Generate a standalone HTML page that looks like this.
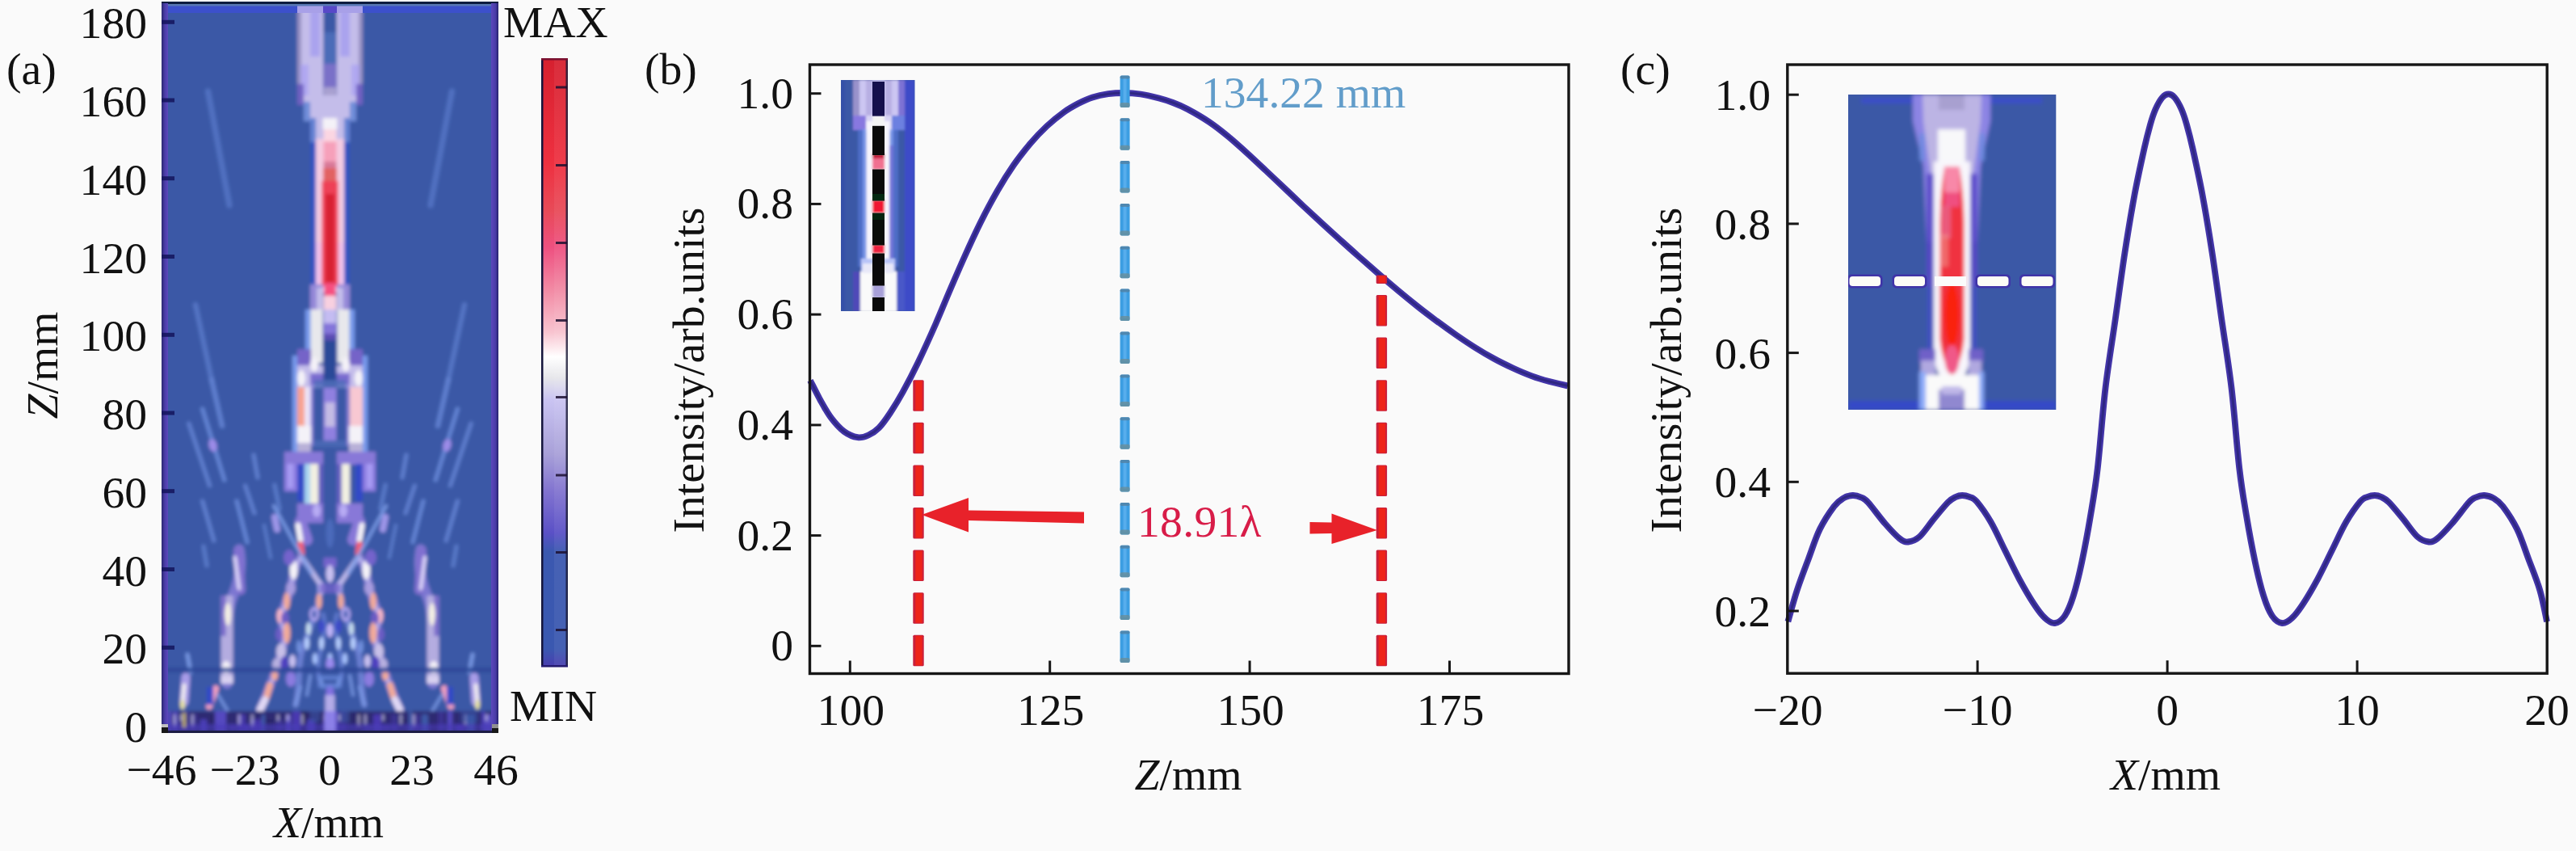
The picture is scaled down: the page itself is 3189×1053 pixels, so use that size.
<!DOCTYPE html>
<html><head><meta charset="utf-8"><title>Figure</title>
<style>
html,body{margin:0;padding:0;background:#fafafa;}
body{width:3189px;height:1053px;overflow:hidden;}
svg{display:block;font-family:"Liberation Serif","DejaVu Serif",serif;}
</style></head><body>
<svg width="3189" height="1053" viewBox="0 0 3189 1053">
<rect x="0" y="0" width="3189" height="1053" fill="#fafafa"/>
<defs><clipPath id="hmclip"><rect x="200" y="2" width="417" height="905"/></clipPath><filter id="hb" x="-5%" y="-5%" width="110%" height="110%"><feGaussianBlur stdDeviation="2.1"/></filter></defs>
<rect x="200" y="2" width="417" height="905" fill="#3b58a6"/>
<g clip-path="url(#hmclip)"><g filter="url(#hb)">
<rect x="180" y="-18" width="457" height="945" fill="#3b58a6"/>
<line x1="257.5" y1="113.0" x2="284.0" y2="254.0" stroke="#5474c4" stroke-width="7" stroke-linecap="round" opacity="0.9"/>
<line x1="559.5" y1="113.0" x2="533.0" y2="254.0" stroke="#5474c4" stroke-width="7" stroke-linecap="round" opacity="0.9"/>
<line x1="242.0" y1="377.0" x2="262.0" y2="470.0" stroke="#5878c8" stroke-width="6" stroke-linecap="round" opacity="0.9"/>
<line x1="575.0" y1="377.0" x2="555.0" y2="470.0" stroke="#5878c8" stroke-width="6" stroke-linecap="round" opacity="0.9"/>
<line x1="262.0" y1="470.0" x2="275.0" y2="527.0" stroke="#6484d4" stroke-width="6" stroke-linecap="round" opacity="0.9"/>
<line x1="555.0" y1="470.0" x2="542.0" y2="527.0" stroke="#6484d4" stroke-width="6" stroke-linecap="round" opacity="0.9"/>
<rect x="368.0" y="4.0" width="32.0" height="125.0" fill="#c4bdea" opacity="1"/>
<rect x="417.0" y="4.0" width="32.0" height="125.0" fill="#c4bdea" opacity="1"/>
<rect x="368.0" y="4.0" width="5.0" height="125.0" fill="#8c86b8" opacity="0.8"/>
<rect x="444.0" y="4.0" width="5.0" height="125.0" fill="#8c86b8" opacity="0.8"/>
<rect x="384.0" y="10.0" width="12.0" height="60.0" fill="#a098f0" opacity="0.7"/>
<rect x="421.0" y="10.0" width="12.0" height="60.0" fill="#a098f0" opacity="0.7"/>
<rect x="372.0" y="80.0" width="10.0" height="40.0" fill="#a8a0f4" opacity="0.7"/>
<rect x="435.0" y="80.0" width="10.0" height="40.0" fill="#a8a0f4" opacity="0.7"/>
<rect x="400.5" y="40.0" width="16.0" height="40.0" fill="#4c6cb8" opacity="1"/>
<rect x="400.5" y="79.0" width="16.0" height="32.0" fill="#7a70c8" opacity="1"/>
<rect x="400.5" y="108.0" width="16.0" height="14.0" fill="#a8a0d0" opacity="1"/>
<rect x="376.5" y="118.0" width="64.0" height="14.0" fill="#c4bdea" opacity="1"/>
<rect x="368.0" y="104.0" width="8.0" height="26.0" fill="#6c5cc0" opacity="0.9"/>
<rect x="441.0" y="104.0" width="8.0" height="26.0" fill="#6c5cc0" opacity="0.9"/>
<rect x="376.0" y="128.0" width="32.5" height="22.0" fill="#c4bdea" opacity="1"/>
<rect x="408.5" y="128.0" width="32.5" height="22.0" fill="#c4bdea" opacity="1"/>
<rect x="376.5" y="128.0" width="64.0" height="22.0" fill="#c4bdea" opacity="1"/>
<rect x="376.0" y="126.0" width="8.0" height="24.0" fill="#6a8ad8" opacity="0.95"/>
<rect x="433.0" y="126.0" width="8.0" height="24.0" fill="#6a8ad8" opacity="0.95"/>
<rect x="384.5" y="146.0" width="48.0" height="30.0" fill="#c4bdea" opacity="1"/>
<rect x="384.0" y="146.0" width="7.0" height="30.0" fill="#5a7ad0" opacity="0.9"/>
<rect x="426.0" y="146.0" width="7.0" height="30.0" fill="#5a7ad0" opacity="0.9"/>
<rect x="399.5" y="146.0" width="18.0" height="14.0" fill="#f4f2f8" opacity="1"/>
<rect x="384.5" y="176.0" width="48.0" height="176.0" fill="#3152c2" opacity="1"/>
<rect x="391.0" y="172.0" width="35.0" height="190.0" fill="#f4cce2" opacity="1"/>
<rect x="391.0" y="300.0" width="35.0" height="60.0" fill="#f0c0ee" opacity="0.8"/>
<rect x="400.5" y="160.0" width="16.0" height="16.0" fill="#fbd6e2" opacity="1"/>
<rect x="400.5" y="175.0" width="16.0" height="26.0" fill="#f6a0ba" opacity="1"/>
<rect x="400.5" y="200.0" width="16.0" height="9.0" fill="#d87898" opacity="1"/>
<rect x="400.0" y="208.0" width="17.0" height="17.0" fill="#e26262" opacity="1"/>
<rect x="398.5" y="224.0" width="20.0" height="130.0" fill="#ee4056" opacity="1"/>
<rect x="403.0" y="240.0" width="11.0" height="112.0" fill="#d82232" opacity="1"/>
<rect x="401.5" y="350.0" width="14.0" height="18.0" fill="#f65080" opacity="1"/>
<rect x="400.5" y="366.0" width="16.0" height="18.0" fill="#f8d0e0" opacity="1"/>
<rect x="384.0" y="352.0" width="16.0" height="32.0" fill="#9488d8" opacity="1"/>
<rect x="417.0" y="352.0" width="16.0" height="32.0" fill="#9488d8" opacity="1"/>
<rect x="392.0" y="356.0" width="8.0" height="28.0" fill="#c4bdea" opacity="1"/>
<rect x="417.0" y="356.0" width="8.0" height="28.0" fill="#c4bdea" opacity="1"/>
<rect x="378.0" y="383.0" width="7.0" height="70.0" fill="#7ea2f4" opacity="0.9"/>
<rect x="432.0" y="383.0" width="7.0" height="70.0" fill="#7ea2f4" opacity="0.9"/>
<rect x="384.5" y="383.0" width="15.0" height="66.0" fill="#e8e8ec" opacity="1"/>
<rect x="417.5" y="383.0" width="15.0" height="66.0" fill="#e8e8ec" opacity="1"/>
<rect x="400.5" y="383.0" width="16.0" height="18.0" fill="#c4bcf2" opacity="1"/>
<rect x="400.5" y="400.0" width="16.0" height="14.0" fill="#8474da" opacity="1"/>
<rect x="400.5" y="413.0" width="16.0" height="8.0" fill="#5c4eb4" opacity="1"/>
<rect x="400.5" y="421.0" width="16.0" height="50.0" fill="#2c4898" opacity="1"/>
<rect x="368.0" y="432.0" width="17.0" height="22.0" fill="#7464c8" opacity="1"/>
<rect x="432.0" y="432.0" width="17.0" height="22.0" fill="#7464c8" opacity="1"/>
<rect x="362.0" y="440.0" width="6.0" height="120.0" fill="#7ea2f4" opacity="0.9"/>
<rect x="449.0" y="440.0" width="6.0" height="120.0" fill="#7ea2f4" opacity="0.9"/>
<rect x="368.0" y="452.0" width="32.0" height="28.0" fill="#c4bdea" opacity="1"/>
<rect x="417.0" y="452.0" width="32.0" height="28.0" fill="#c4bdea" opacity="1"/>
<ellipse cx="389.0" cy="451.0" rx="5" ry="9" fill="#f4f2f8" opacity="1" transform="rotate(0 389.0 451.0)"/>
<ellipse cx="428.0" cy="451.0" rx="5" ry="9" fill="#f4f2f8" opacity="1" transform="rotate(0 428.0 451.0)"/>
<ellipse cx="373.0" cy="468.0" rx="5" ry="10" fill="#f4f2f8" opacity="1" transform="rotate(0 373.0 468.0)"/>
<ellipse cx="444.0" cy="468.0" rx="5" ry="10" fill="#f4f2f8" opacity="1" transform="rotate(0 444.0 468.0)"/>
<rect x="384.0" y="462.0" width="16.0" height="14.0" fill="#7a6cd0" opacity="1"/>
<rect x="417.0" y="462.0" width="16.0" height="14.0" fill="#7a6cd0" opacity="1"/>
<rect x="368.0" y="479.0" width="9.0" height="49.0" fill="#f8a290" opacity="1"/>
<rect x="433.0" y="479.0" width="16.0" height="49.0" fill="#f8c8d2" opacity="1"/>
<rect x="377.0" y="479.0" width="8.0" height="49.0" fill="#ece4f8" opacity="1"/>
<rect x="384.5" y="476.0" width="3.5" height="76.0" fill="#8c80dc" opacity="0.9"/>
<rect x="429.0" y="476.0" width="3.5" height="76.0" fill="#8c80dc" opacity="0.9"/>
<rect x="368.0" y="527.0" width="17.0" height="22.0" fill="#f4f2f8" opacity="1"/>
<rect x="432.0" y="527.0" width="17.0" height="22.0" fill="#f4f2f8" opacity="1"/>
<rect x="368.0" y="548.0" width="17.0" height="12.0" fill="#b8b0d8" opacity="1"/>
<rect x="432.0" y="548.0" width="17.0" height="12.0" fill="#b8b0d8" opacity="1"/>
<rect x="400.5" y="480.0" width="16.0" height="65.0" fill="#9080e0" opacity="1"/>
<rect x="402.5" y="498.0" width="12.0" height="30.0" fill="#c4bce4" opacity="1"/>
<rect x="388.5" y="470.0" width="40.0" height="10.0" fill="#4c6cb8" opacity="0.8"/>
<rect x="388.5" y="545.0" width="40.0" height="8.0" fill="#4c6cb8" opacity="0.8"/>
<rect x="352.0" y="559.0" width="48.0" height="16.0" fill="#8878d8" opacity="1"/>
<rect x="417.0" y="559.0" width="48.0" height="16.0" fill="#8878d8" opacity="1"/>
<rect x="352.0" y="574.0" width="16.0" height="34.0" fill="#8c7ce0" opacity="1"/>
<rect x="449.0" y="574.0" width="16.0" height="34.0" fill="#8c7ce0" opacity="1"/>
<rect x="356.0" y="574.0" width="7.0" height="30.0" fill="#a89cf4" opacity="1"/>
<rect x="454.0" y="574.0" width="7.0" height="30.0" fill="#a89cf4" opacity="1"/>
<rect x="368.0" y="574.0" width="9.0" height="46.0" fill="#3048c8" opacity="1"/>
<rect x="440.0" y="574.0" width="9.0" height="46.0" fill="#3048c8" opacity="1"/>
<rect x="377.0" y="574.0" width="8.0" height="50.0" fill="#a8d4f0" opacity="1"/>
<rect x="384.0" y="574.0" width="10.0" height="50.0" fill="#f2f0e2" opacity="1"/>
<rect x="423.0" y="574.0" width="10.0" height="50.0" fill="#f2f0e2" opacity="1"/>
<rect x="394.0" y="574.0" width="6.0" height="50.0" fill="#7060c8" opacity="0.8"/>
<rect x="417.0" y="574.0" width="6.0" height="50.0" fill="#7060c8" opacity="0.8"/>
<rect x="368.0" y="623.0" width="32.0" height="24.0" fill="#8878d8" opacity="1"/>
<rect x="417.0" y="623.0" width="32.0" height="24.0" fill="#8878d8" opacity="1"/>
<ellipse cx="392.0" cy="632.0" rx="5" ry="8" fill="#b8acf4" opacity="1" transform="rotate(0 392.0 632.0)"/>
<ellipse cx="425.0" cy="632.0" rx="5" ry="8" fill="#b8acf4" opacity="1" transform="rotate(0 425.0 632.0)"/>
<path d="M372,690 C362,705 362,720 358,735 C352,750 346,760 350,775 C356,790 350,800 346,815 C340,835 334,850 322,878" fill="none" stroke="#8c80dc" stroke-width="10" stroke-linecap="round" opacity="0.85"/>
<path d="M372,690 C362,705 362,720 358,735 C352,750 346,760 350,775 C356,790 350,800 346,815 C340,835 334,850 322,878" fill="none" stroke="#8c80dc" stroke-width="10" stroke-linecap="round" opacity="0.85" transform="translate(817.0,0) scale(-1,1)"/>
<path d="M372,690 C362,705 362,720 358,735 C352,750 346,760 350,775 C356,790 350,800 346,815 C340,835 334,850 322,878" fill="none" stroke="#c4bcf0" stroke-width="4" stroke-linecap="round" opacity="0.8"/>
<path d="M372,690 C362,705 362,720 358,735 C352,750 346,760 350,775 C356,790 350,800 346,815 C340,835 334,850 322,878" fill="none" stroke="#c4bcf0" stroke-width="4" stroke-linecap="round" opacity="0.8" transform="translate(817.0,0) scale(-1,1)"/>
<path d="M396,722 C397,735 394,748 390,760 C384,775 380,790 374,805 C368,825 372,850 366,872" fill="none" stroke="#7c8ce0" stroke-width="7" stroke-linecap="round" opacity="0.75"/>
<path d="M396,722 C397,735 394,748 390,760 C384,775 380,790 374,805 C368,825 372,850 366,872" fill="none" stroke="#7c8ce0" stroke-width="7" stroke-linecap="round" opacity="0.75" transform="translate(817.0,0) scale(-1,1)"/>
<path d="M400,760 C404,775 400,790 398,800 C394,815 392,830 396,845" fill="none" stroke="#6c84dc" stroke-width="5" stroke-linecap="round" opacity="0.7"/>
<path d="M400,760 C404,775 400,790 398,800 C394,815 392,830 396,845" fill="none" stroke="#6c84dc" stroke-width="5" stroke-linecap="round" opacity="0.7" transform="translate(817.0,0) scale(-1,1)"/>
<path d="M296,680 C300,700 296,720 288,738 C278,760 282,800 281,846" fill="none" stroke="#8c80dc" stroke-width="13" stroke-linecap="round" opacity="0.8"/>
<path d="M296,680 C300,700 296,720 288,738 C278,760 282,800 281,846" fill="none" stroke="#8c80dc" stroke-width="13" stroke-linecap="round" opacity="0.8" transform="translate(817.0,0) scale(-1,1)"/>
<line x1="372.0" y1="645.0" x2="380.0" y2="668.0" stroke="#8878d8" stroke-width="14" stroke-linecap="round" opacity="1"/>
<line x1="445.0" y1="645.0" x2="437.0" y2="668.0" stroke="#8878d8" stroke-width="14" stroke-linecap="round" opacity="1"/>
<line x1="369.0" y1="650.0" x2="372.0" y2="668.0" stroke="#f4f2f8" stroke-width="7" stroke-linecap="round" opacity="1"/>
<line x1="448.0" y1="650.0" x2="445.0" y2="668.0" stroke="#f4f2f8" stroke-width="7" stroke-linecap="round" opacity="1"/>
<line x1="372.0" y1="674.0" x2="373.0" y2="684.0" stroke="#f06078" stroke-width="8" stroke-linecap="round" opacity="1"/>
<line x1="445.0" y1="674.0" x2="444.0" y2="684.0" stroke="#f06078" stroke-width="8" stroke-linecap="round" opacity="1"/>
<line x1="374.0" y1="690.0" x2="396.0" y2="722.0" stroke="#c8c0f0" stroke-width="6" stroke-linecap="round" opacity="0.9"/>
<line x1="443.0" y1="690.0" x2="421.0" y2="722.0" stroke="#c8c0f0" stroke-width="6" stroke-linecap="round" opacity="0.9"/>
<line x1="339.0" y1="626.0" x2="385.0" y2="709.0" stroke="#7c9ce8" stroke-width="4" stroke-linecap="round" opacity="0.9"/>
<line x1="478.0" y1="626.0" x2="432.0" y2="709.0" stroke="#7c9ce8" stroke-width="4" stroke-linecap="round" opacity="0.9"/>
<line x1="340.0" y1="640.0" x2="343.0" y2="655.0" stroke="#a89cf0" stroke-width="8" stroke-linecap="round" opacity="0.9"/>
<line x1="477.0" y1="640.0" x2="474.0" y2="655.0" stroke="#a89cf0" stroke-width="8" stroke-linecap="round" opacity="0.9"/>
<rect x="400.5" y="690.0" width="16.0" height="12.0" fill="#7464cc" opacity="1"/>
<ellipse cx="408.5" cy="710.0" rx="5" ry="11" fill="#c8c0f0" opacity="1" transform="rotate(0 408.5 710.0)"/>
<ellipse cx="408.5" cy="660.0" rx="5" ry="18" fill="#5474c4" opacity="0.7" transform="rotate(0 408.5 660.0)"/>
<ellipse cx="363.5" cy="705.0" rx="5" ry="12" fill="#f4f2f8" opacity="1" transform="rotate(0 363.5 705.0)"/>
<ellipse cx="453.5" cy="705.0" rx="5" ry="12" fill="#f4f2f8" opacity="1" transform="rotate(0 453.5 705.0)"/>
<ellipse cx="358.0" cy="690.0" rx="7" ry="10" fill="#7464cc" opacity="1" transform="rotate(0 358.0 690.0)"/>
<ellipse cx="459.0" cy="690.0" rx="7" ry="10" fill="#7464cc" opacity="1" transform="rotate(0 459.0 690.0)"/>
<ellipse cx="360.0" cy="728.0" rx="6" ry="8" fill="#a89ce0" opacity="1" transform="rotate(0 360.0 728.0)"/>
<ellipse cx="457.0" cy="728.0" rx="6" ry="8" fill="#a89ce0" opacity="1" transform="rotate(0 457.0 728.0)"/>
<ellipse cx="355.0" cy="744.0" rx="4" ry="11" fill="#f2aa9a" opacity="1" transform="rotate(0 355.0 744.0)"/>
<ellipse cx="462.0" cy="744.0" rx="4" ry="11" fill="#f2aa9a" opacity="1" transform="rotate(0 462.0 744.0)"/>
<ellipse cx="395.0" cy="744.0" rx="3.5" ry="10" fill="#f2aa9a" opacity="1" transform="rotate(0 395.0 744.0)"/>
<ellipse cx="422.0" cy="744.0" rx="3.5" ry="10" fill="#f2aa9a" opacity="1" transform="rotate(0 422.0 744.0)"/>
<ellipse cx="398.0" cy="728.0" rx="4" ry="8" fill="#c8c0f8" opacity="1" transform="rotate(0 398.0 728.0)"/>
<ellipse cx="419.0" cy="728.0" rx="4" ry="8" fill="#c8c0f8" opacity="1" transform="rotate(0 419.0 728.0)"/>
<rect x="395.5" y="722.0" width="26.0" height="12.0" fill="#7060c8" opacity="0.8"/>
<ellipse cx="346.5" cy="762.0" rx="4" ry="9" fill="#f8b8c8" opacity="1" transform="rotate(0 346.5 762.0)"/>
<ellipse cx="470.5" cy="762.0" rx="4" ry="9" fill="#f8b8c8" opacity="1" transform="rotate(0 470.5 762.0)"/>
<ellipse cx="353.0" cy="765.0" rx="5" ry="8" fill="#6c5cc4" opacity="1" transform="rotate(0 353.0 765.0)"/>
<ellipse cx="464.0" cy="765.0" rx="5" ry="8" fill="#6c5cc4" opacity="1" transform="rotate(0 464.0 765.0)"/>
<ellipse cx="389.0" cy="760.0" rx="6" ry="9" fill="#b0a4f0" opacity="1" transform="rotate(0 389.0 760.0)"/>
<ellipse cx="428.0" cy="760.0" rx="6" ry="9" fill="#b0a4f0" opacity="1" transform="rotate(0 428.0 760.0)"/>
<ellipse cx="389.0" cy="760.0" rx="2.5" ry="5" fill="#4060b0" opacity="1" transform="rotate(0 389.0 760.0)"/>
<ellipse cx="428.0" cy="760.0" rx="2.5" ry="5" fill="#4060b0" opacity="1" transform="rotate(0 428.0 760.0)"/>
<ellipse cx="355.0" cy="783.0" rx="4.5" ry="13" fill="#f2aa9a" opacity="1" transform="rotate(0 355.0 783.0)"/>
<ellipse cx="462.0" cy="783.0" rx="4.5" ry="13" fill="#f2aa9a" opacity="1" transform="rotate(0 462.0 783.0)"/>
<ellipse cx="345.0" cy="785.0" rx="4" ry="8" fill="#6c5cc4" opacity="1" transform="rotate(0 345.0 785.0)"/>
<ellipse cx="472.0" cy="785.0" rx="4" ry="8" fill="#6c5cc4" opacity="1" transform="rotate(0 472.0 785.0)"/>
<ellipse cx="382.0" cy="778.0" rx="3" ry="8" fill="#c8e0f0" opacity="1" transform="rotate(0 382.0 778.0)"/>
<ellipse cx="435.0" cy="778.0" rx="3" ry="8" fill="#c8e0f0" opacity="1" transform="rotate(0 435.0 778.0)"/>
<ellipse cx="408.5" cy="780.0" rx="4" ry="9" fill="#c0b4f8" opacity="1" transform="rotate(0 408.5 780.0)"/>
<ellipse cx="398.0" cy="775.0" rx="4" ry="8" fill="#3c48c8" opacity="1" transform="rotate(0 398.0 775.0)"/>
<ellipse cx="419.0" cy="775.0" rx="4" ry="8" fill="#3c48c8" opacity="1" transform="rotate(0 419.0 775.0)"/>
<ellipse cx="380.0" cy="796.0" rx="3" ry="8" fill="#b8d0ff" opacity="1" transform="rotate(0 380.0 796.0)"/>
<ellipse cx="437.0" cy="796.0" rx="3" ry="8" fill="#b8d0ff" opacity="1" transform="rotate(0 437.0 796.0)"/>
<ellipse cx="398.0" cy="796.0" rx="3" ry="8" fill="#b8d0ff" opacity="1" transform="rotate(0 398.0 796.0)"/>
<ellipse cx="419.0" cy="796.0" rx="3" ry="8" fill="#b8d0ff" opacity="1" transform="rotate(0 419.0 796.0)"/>
<ellipse cx="390.0" cy="815.0" rx="3" ry="7" fill="#a8c4ff" opacity="1" transform="rotate(0 390.0 815.0)"/>
<ellipse cx="427.0" cy="815.0" rx="3" ry="7" fill="#a8c4ff" opacity="1" transform="rotate(0 427.0 815.0)"/>
<ellipse cx="408.5" cy="815.0" rx="3" ry="7" fill="#a8c4ff" opacity="1" transform="rotate(0 408.5 815.0)"/>
<ellipse cx="408.5" cy="822.0" rx="5" ry="8" fill="#9c8cf0" opacity="1" transform="rotate(0 408.5 822.0)"/>
<ellipse cx="370.0" cy="800.0" rx="3" ry="8" fill="#7c9ce8" opacity="0.8" transform="rotate(0 370.0 800.0)"/>
<ellipse cx="447.0" cy="800.0" rx="3" ry="8" fill="#7c9ce8" opacity="0.8" transform="rotate(0 447.0 800.0)"/>
<ellipse cx="348.0" cy="806.0" rx="6" ry="10" fill="#c8c0e8" opacity="1" transform="rotate(0 348.0 806.0)"/>
<ellipse cx="469.0" cy="806.0" rx="6" ry="10" fill="#c8c0e8" opacity="1" transform="rotate(0 469.0 806.0)"/>
<ellipse cx="344.0" cy="822.0" rx="7" ry="8" fill="#b8b0e0" opacity="1" transform="rotate(0 344.0 822.0)"/>
<ellipse cx="473.0" cy="822.0" rx="7" ry="8" fill="#b8b0e0" opacity="1" transform="rotate(0 473.0 822.0)"/>
<ellipse cx="352.0" cy="822.0" rx="5" ry="10" fill="#5040c0" opacity="1" transform="rotate(0 352.0 822.0)"/>
<ellipse cx="465.0" cy="822.0" rx="5" ry="10" fill="#5040c0" opacity="1" transform="rotate(0 465.0 822.0)"/>
<ellipse cx="362.0" cy="818.0" rx="4" ry="8" fill="#c8c0f0" opacity="1" transform="rotate(0 362.0 818.0)"/>
<ellipse cx="455.0" cy="818.0" rx="4" ry="8" fill="#c8c0f0" opacity="1" transform="rotate(0 455.0 818.0)"/>
<ellipse cx="340.0" cy="836.0" rx="4" ry="6" fill="#f2aa9a" opacity="1" transform="rotate(0 340.0 836.0)"/>
<ellipse cx="477.0" cy="836.0" rx="4" ry="6" fill="#f2aa9a" opacity="1" transform="rotate(0 477.0 836.0)"/>
<ellipse cx="360.0" cy="840.0" rx="6" ry="10" fill="#8c7ce0" opacity="1" transform="rotate(0 360.0 840.0)"/>
<ellipse cx="457.0" cy="840.0" rx="6" ry="10" fill="#8c7ce0" opacity="1" transform="rotate(0 457.0 840.0)"/>
<line x1="334.0" y1="848.0" x2="330.0" y2="862.0" stroke="#f2aa9a" stroke-width="8" stroke-linecap="round" opacity="1"/>
<line x1="483.0" y1="848.0" x2="487.0" y2="862.0" stroke="#f2aa9a" stroke-width="8" stroke-linecap="round" opacity="1"/>
<line x1="328.0" y1="866.0" x2="322.0" y2="878.0" stroke="#e0d8f4" stroke-width="9" stroke-linecap="round" opacity="1"/>
<line x1="489.0" y1="866.0" x2="495.0" y2="878.0" stroke="#e0d8f4" stroke-width="9" stroke-linecap="round" opacity="1"/>
<line x1="372.0" y1="850.0" x2="366.0" y2="872.0" stroke="#7c9ce8" stroke-width="4" stroke-linecap="round" opacity="0.8"/>
<line x1="445.0" y1="850.0" x2="451.0" y2="872.0" stroke="#7c9ce8" stroke-width="4" stroke-linecap="round" opacity="0.8"/>
<line x1="384.0" y1="836.0" x2="380.0" y2="860.0" stroke="#7c9ce8" stroke-width="4" stroke-linecap="round" opacity="0.8"/>
<line x1="433.0" y1="836.0" x2="437.0" y2="860.0" stroke="#7c9ce8" stroke-width="4" stroke-linecap="round" opacity="0.8"/>
<line x1="396.0" y1="838.0" x2="400.0" y2="850.0" stroke="#7c9ce8" stroke-width="4" stroke-linecap="round" opacity="0.8"/>
<line x1="421.0" y1="838.0" x2="417.0" y2="850.0" stroke="#7c9ce8" stroke-width="4" stroke-linecap="round" opacity="0.8"/>
<ellipse cx="408.5" cy="856.0" rx="5" ry="10" fill="#8070e0" opacity="1" transform="rotate(0 408.5 856.0)"/>
<rect x="402.5" y="860.0" width="12.0" height="44.0" fill="#b4ace8" opacity="1"/>
<rect x="393.5" y="836.0" width="30.0" height="5.0" fill="#6484d8" opacity="0.8"/>
<rect x="393.5" y="846.0" width="30.0" height="5.0" fill="#6484d8" opacity="0.8"/>
<line x1="250.6" y1="506.0" x2="277.8" y2="594.0" stroke="#6d8fe0" stroke-width="5" stroke-linecap="round" opacity="0.8"/>
<line x1="566.4" y1="506.0" x2="539.2" y2="594.0" stroke="#6d8fe0" stroke-width="5" stroke-linecap="round" opacity="0.8"/>
<ellipse cx="263.5" cy="551.0" rx="5" ry="8" fill="#9c8ce8" opacity="1" transform="rotate(-15 263.5 551.0)"/>
<ellipse cx="553.5" cy="551.0" rx="5" ry="8" fill="#9c8ce8" opacity="1" transform="rotate(15 553.5 551.0)"/>
<line x1="233.8" y1="524.0" x2="259.6" y2="601.0" stroke="#6d8fe0" stroke-width="5" stroke-linecap="round" opacity="0.7"/>
<line x1="583.2" y1="524.0" x2="557.4" y2="601.0" stroke="#6d8fe0" stroke-width="5" stroke-linecap="round" opacity="0.7"/>
<line x1="314.0" y1="563.0" x2="319.0" y2="591.0" stroke="#6d8fe0" stroke-width="5" stroke-linecap="round" opacity="0.7"/>
<line x1="503.0" y1="563.0" x2="498.0" y2="591.0" stroke="#6d8fe0" stroke-width="5" stroke-linecap="round" opacity="0.7"/>
<line x1="303.6" y1="601.0" x2="315.0" y2="635.0" stroke="#6d8fe0" stroke-width="5" stroke-linecap="round" opacity="0.7"/>
<line x1="513.4" y1="601.0" x2="502.0" y2="635.0" stroke="#6d8fe0" stroke-width="5" stroke-linecap="round" opacity="0.7"/>
<line x1="293.0" y1="620.0" x2="306.0" y2="671.0" stroke="#6d8fe0" stroke-width="5" stroke-linecap="round" opacity="0.8"/>
<line x1="524.0" y1="620.0" x2="511.0" y2="671.0" stroke="#6d8fe0" stroke-width="5" stroke-linecap="round" opacity="0.8"/>
<line x1="250.6" y1="620.0" x2="264.8" y2="669.0" stroke="#6d8fe0" stroke-width="5" stroke-linecap="round" opacity="0.7"/>
<line x1="566.4" y1="620.0" x2="552.2" y2="669.0" stroke="#6d8fe0" stroke-width="5" stroke-linecap="round" opacity="0.7"/>
<line x1="252.0" y1="676.0" x2="256.0" y2="700.0" stroke="#6d8fe0" stroke-width="5" stroke-linecap="round" opacity="0.6"/>
<line x1="565.0" y1="676.0" x2="561.0" y2="700.0" stroke="#6d8fe0" stroke-width="5" stroke-linecap="round" opacity="0.6"/>
<line x1="339.8" y1="600.0" x2="346.0" y2="630.0" stroke="#6d8fe0" stroke-width="5" stroke-linecap="round" opacity="0.6"/>
<line x1="477.2" y1="600.0" x2="471.0" y2="630.0" stroke="#6d8fe0" stroke-width="5" stroke-linecap="round" opacity="0.6"/>
<line x1="327.0" y1="650.0" x2="335.0" y2="690.0" stroke="#6d8fe0" stroke-width="4" stroke-linecap="round" opacity="0.6"/>
<line x1="490.0" y1="650.0" x2="482.0" y2="690.0" stroke="#6d8fe0" stroke-width="4" stroke-linecap="round" opacity="0.6"/>
<line x1="295.0" y1="682.0" x2="298.0" y2="730.0" stroke="#8070d0" stroke-width="12" stroke-linecap="round" opacity="1"/>
<line x1="522.0" y1="682.0" x2="519.0" y2="730.0" stroke="#8070d0" stroke-width="12" stroke-linecap="round" opacity="1"/>
<line x1="291.0" y1="690.0" x2="296.0" y2="728.0" stroke="#d8d0f8" stroke-width="5" stroke-linecap="round" opacity="1"/>
<line x1="526.0" y1="690.0" x2="521.0" y2="728.0" stroke="#d8d0f8" stroke-width="5" stroke-linecap="round" opacity="1"/>
<rect x="273.5" y="737.0" width="15.0" height="108.0" fill="#b4ace0" opacity="1"/>
<rect x="528.5" y="737.0" width="15.0" height="108.0" fill="#b4ace0" opacity="1"/>
<rect x="273.5" y="737.0" width="6.0" height="50.0" fill="#6c5cc4" opacity="0.8"/>
<rect x="537.5" y="737.0" width="6.0" height="50.0" fill="#6c5cc4" opacity="0.8"/>
<ellipse cx="282.0" cy="760.0" rx="4" ry="14" fill="#f4f0e4" opacity="1" transform="rotate(0 282.0 760.0)"/>
<ellipse cx="535.0" cy="760.0" rx="4" ry="14" fill="#f4f0e4" opacity="1" transform="rotate(0 535.0 760.0)"/>
<ellipse cx="280.0" cy="826.0" rx="5" ry="8" fill="#f4f2f8" opacity="1" transform="rotate(0 280.0 826.0)"/>
<ellipse cx="537.0" cy="826.0" rx="5" ry="8" fill="#f4f2f8" opacity="1" transform="rotate(0 537.0 826.0)"/>
<rect x="273.5" y="836.0" width="15.0" height="10.0" fill="#d8d0f0" opacity="1"/>
<rect x="528.5" y="836.0" width="15.0" height="10.0" fill="#d8d0f0" opacity="1"/>
<line x1="267.0" y1="852.0" x2="259.0" y2="874.0" stroke="#f0a0c0" stroke-width="8" stroke-linecap="round" opacity="1"/>
<line x1="550.0" y1="852.0" x2="558.0" y2="874.0" stroke="#f0a0c0" stroke-width="8" stroke-linecap="round" opacity="1"/>
<rect x="256.0" y="850.0" width="8.0" height="22.0" fill="#3048c8" opacity="1"/>
<rect x="553.0" y="850.0" width="8.0" height="22.0" fill="#3048c8" opacity="1"/>
<line x1="270.0" y1="860.0" x2="282.0" y2="880.0" stroke="#7c9ce8" stroke-width="4" stroke-linecap="round" opacity="0.8"/>
<line x1="547.0" y1="860.0" x2="535.0" y2="880.0" stroke="#7c9ce8" stroke-width="4" stroke-linecap="round" opacity="0.8"/>
<line x1="232.0" y1="810.0" x2="236.0" y2="832.0" stroke="#7c9ce8" stroke-width="5" stroke-linecap="round" opacity="0.9"/>
<line x1="585.0" y1="810.0" x2="581.0" y2="832.0" stroke="#7c9ce8" stroke-width="5" stroke-linecap="round" opacity="0.9"/>
<line x1="230.0" y1="838.0" x2="228.0" y2="868.0" stroke="#a89ce8" stroke-width="11" stroke-linecap="round" opacity="1"/>
<line x1="587.0" y1="838.0" x2="589.0" y2="868.0" stroke="#a89ce8" stroke-width="11" stroke-linecap="round" opacity="1"/>
<line x1="228.0" y1="848.0" x2="226.0" y2="870.0" stroke="#f0ecf0" stroke-width="5" stroke-linecap="round" opacity="1"/>
<line x1="589.0" y1="848.0" x2="591.0" y2="870.0" stroke="#f0ecf0" stroke-width="5" stroke-linecap="round" opacity="1"/>
<ellipse cx="226.0" cy="872.0" rx="3" ry="6" fill="#e8e4a0" opacity="1" transform="rotate(0 226.0 872.0)"/>
<ellipse cx="591.0" cy="872.0" rx="3" ry="6" fill="#e8e4a0" opacity="1" transform="rotate(0 591.0 872.0)"/>
<rect x="200" y="826" width="417" height="6" fill="#2c4898" opacity="0.85"/>
<rect x="200" y="880" width="417" height="27" fill="#2e2a72"/>
<rect x="206" y="880" width="6" height="25" fill="#5448c0"/>
<rect x="214" y="880" width="6" height="25" fill="#4a3cb4"/>
<rect x="215" y="884" width="2.5" height="16" fill="#c8c4e8" opacity="0.8"/>
<rect x="222" y="890" width="4" height="15" fill="#3a3290"/>
<rect x="223" y="884" width="2.5" height="8" fill="#c8c4e8" opacity="0.8"/>
<rect x="226" y="880" width="8" height="25" fill="#3a3290"/>
<rect x="236" y="884" width="8" height="21" fill="#3a3290"/>
<rect x="237" y="884" width="2.5" height="16" fill="#c8c4e8" opacity="0.8"/>
<rect x="248" y="890" width="8" height="15" fill="#4a3cb4"/>
<rect x="260" y="884" width="6" height="21" fill="#2a2868"/>
<rect x="266" y="880" width="14" height="25" fill="#5448c0"/>
<rect x="284" y="896" width="8" height="9" fill="#3a3290"/>
<rect x="294" y="884" width="10" height="21" fill="#4434a8"/>
<rect x="295" y="884" width="2.5" height="12" fill="#c8c4e8" opacity="0.8"/>
<rect x="304" y="896" width="4" height="9" fill="#4838b0"/>
<rect x="310" y="890" width="14" height="15" fill="#4434a8"/>
<rect x="311" y="884" width="2.5" height="16" fill="#c8c4e8" opacity="0.8"/>
<rect x="324" y="884" width="4" height="21" fill="#3c58a8"/>
<rect x="330" y="890" width="8" height="15" fill="#2a2868"/>
<rect x="342" y="890" width="8" height="15" fill="#3a3290"/>
<rect x="343" y="884" width="2.5" height="8" fill="#c8c4e8" opacity="0.8"/>
<rect x="354" y="884" width="6" height="21" fill="#5448c0"/>
<rect x="355" y="884" width="2.5" height="8" fill="#c8c4e8" opacity="0.8"/>
<rect x="362" y="880" width="10" height="25" fill="#4838b0"/>
<rect x="372" y="880" width="8" height="25" fill="#28245c"/>
<rect x="373" y="884" width="2.5" height="12" fill="#c8c4e8" opacity="0.8"/>
<rect x="380" y="890" width="10" height="15" fill="#4a3cb4"/>
<rect x="392" y="890" width="8" height="15" fill="#2a2868"/>
<rect x="400" y="890" width="8" height="15" fill="#4838b0"/>
<rect x="401" y="884" width="2.5" height="8" fill="#c8c4e8" opacity="0.8"/>
<rect x="410" y="880" width="8" height="25" fill="#5448c0"/>
<rect x="418" y="880" width="10" height="25" fill="#3a3290"/>
<rect x="419" y="884" width="2.5" height="8" fill="#c8c4e8" opacity="0.8"/>
<rect x="432" y="880" width="6" height="25" fill="#2a2868"/>
<rect x="442" y="880" width="6" height="25" fill="#28245c"/>
<rect x="443" y="884" width="2.5" height="16" fill="#c8c4e8" opacity="0.8"/>
<rect x="450" y="896" width="10" height="9" fill="#3a3290"/>
<rect x="451" y="884" width="2.5" height="12" fill="#c8c4e8" opacity="0.8"/>
<rect x="462" y="884" width="10" height="21" fill="#4838b0"/>
<rect x="472" y="896" width="10" height="9" fill="#3a3290"/>
<rect x="473" y="884" width="2.5" height="8" fill="#c8c4e8" opacity="0.8"/>
<rect x="484" y="884" width="8" height="21" fill="#3a3290"/>
<rect x="494" y="890" width="8" height="15" fill="#2a2868"/>
<rect x="495" y="884" width="2.5" height="12" fill="#c8c4e8" opacity="0.8"/>
<rect x="506" y="880" width="4" height="25" fill="#3c58a8"/>
<rect x="510" y="884" width="10" height="21" fill="#3a3290"/>
<rect x="511" y="884" width="2.5" height="16" fill="#c8c4e8" opacity="0.8"/>
<rect x="522" y="884" width="8" height="21" fill="#3c58a8"/>
<rect x="534" y="896" width="8" height="9" fill="#28245c"/>
<rect x="542" y="880" width="8" height="25" fill="#3a3290"/>
<rect x="554" y="880" width="6" height="25" fill="#5448c0"/>
<rect x="564" y="896" width="10" height="9" fill="#4434a8"/>
<rect x="574" y="884" width="4" height="21" fill="#3a3290"/>
<rect x="575" y="884" width="2.5" height="12" fill="#c8c4e8" opacity="0.8"/>
<rect x="578" y="884" width="10" height="21" fill="#3c58a8"/>
<rect x="588" y="896" width="6" height="9" fill="#28245c"/>
<rect x="596" y="880" width="4" height="25" fill="#4a3cb4"/>
<rect x="600" y="884" width="10" height="21" fill="#5448c0"/>
<rect x="601" y="884" width="2.5" height="8" fill="#c8c4e8" opacity="0.8"/>
<rect x="206" y="896" width="404" height="8" fill="#4a3cb8" opacity="0.65"/>
<rect x="384.0" y="880.0" width="12.0" height="14.0" fill="#3b58a6" opacity="0.55"/>
<rect x="421.0" y="880.0" width="12.0" height="14.0" fill="#3b58a6" opacity="0.55"/>
<rect x="570.0" y="880.0" width="22.0" height="14.0" fill="#3450a4" opacity="0.5"/>
<rect x="401.5" y="880.0" width="14.0" height="25.0" fill="#8c80e8" opacity="1"/>
<rect x="226.0" y="882.0" width="4.0" height="18.0" fill="#b8a860" opacity="1"/>
</g>
<rect x="200" y="7" width="417" height="9" fill="#3c50cc"/>
<rect x="368" y="5" width="32" height="11" fill="#a8a0e8"/><rect x="417" y="5" width="32" height="11" fill="#a8a0e8"/><rect x="400" y="7" width="17" height="9" fill="#5848c8"/>
<rect x="200" y="2" width="417" height="3.5" fill="#0c1c40"/>
<rect x="200" y="5" width="417" height="2.5" fill="#5878b4"/>
<defs><linearGradient id="lb" x1="0" x2="1"><stop offset="0" stop-color="#2a2870"/><stop offset="0.5" stop-color="#4a3ca8"/><stop offset="1" stop-color="#5c48bc"/></linearGradient><linearGradient id="rbd" x1="0" x2="1"><stop offset="0" stop-color="#5c48bc"/><stop offset="0.6" stop-color="#4a3ca8"/><stop offset="1" stop-color="#24226c"/></linearGradient></defs>
<rect x="200" y="4" width="8" height="903" fill="url(#lb)"/>
<rect x="608" y="4" width="9" height="903" fill="url(#rbd)"/>
<rect x="200" y="904" width="417" height="3" fill="#1c1c44"/>
<rect x="200" y="896" width="8" height="9" fill="#c0c0c0"/><rect x="200" y="900" width="8" height="7" fill="#181818"/>
<rect x="609" y="896" width="8" height="9" fill="#909090"/><rect x="609" y="901" width="8" height="6" fill="#181818"/>
<rect x="200" y="798.8" width="16" height="5" fill="#14145c" opacity="0.85"/>
<rect x="200" y="702.0" width="16" height="5" fill="#14145c" opacity="0.85"/>
<rect x="200" y="605.2" width="16" height="5" fill="#14145c" opacity="0.85"/>
<rect x="200" y="508.5" width="16" height="5" fill="#14145c" opacity="0.85"/>
<rect x="200" y="411.8" width="16" height="5" fill="#14145c" opacity="0.85"/>
<rect x="200" y="315.0" width="16" height="5" fill="#14145c" opacity="0.85"/>
<rect x="200" y="218.2" width="16" height="5" fill="#14145c" opacity="0.85"/>
<rect x="200" y="121.5" width="16" height="5" fill="#14145c" opacity="0.85"/>
<rect x="200" y="24.8" width="16" height="5" fill="#14145c" opacity="0.85"/>
</g>
<text x="182" y="918.0" text-anchor="end" font-size="55.6" fill="#111" >0</text>
<text x="182" y="821.25" text-anchor="end" font-size="55.6" fill="#111" >20</text>
<text x="182" y="724.5" text-anchor="end" font-size="55.6" fill="#111" >40</text>
<text x="182" y="627.75" text-anchor="end" font-size="55.6" fill="#111" >60</text>
<text x="182" y="531.0" text-anchor="end" font-size="55.6" fill="#111" >80</text>
<text x="182" y="434.25" text-anchor="end" font-size="55.6" fill="#111" >100</text>
<text x="182" y="337.5" text-anchor="end" font-size="55.6" fill="#111" >120</text>
<text x="182" y="240.75" text-anchor="end" font-size="55.6" fill="#111" >140</text>
<text x="182" y="144.0" text-anchor="end" font-size="55.6" fill="#111" >160</text>
<text x="182" y="47.25" text-anchor="end" font-size="55.6" fill="#111" >180</text>
<text x="200" y="971" text-anchor="middle" font-size="55.6" fill="#111" >−46</text>
<text x="303" y="971" text-anchor="middle" font-size="55.6" fill="#111" >−23</text>
<text x="408" y="971" text-anchor="middle" font-size="55.6" fill="#111" >0</text>
<text x="510" y="971" text-anchor="middle" font-size="55.6" fill="#111" >23</text>
<text x="614" y="971" text-anchor="middle" font-size="55.6" fill="#111" >46</text>
<text x="407" y="1036" text-anchor="middle" font-size="55.6" fill="#111" ><tspan font-style="italic">X</tspan>/mm</text>
<text transform="translate(71,452) rotate(-90)" text-anchor="middle" font-size="55.6" fill="#111"><tspan font-style="italic">Z</tspan>/mm</text>
<text x="8" y="104" text-anchor="start" font-size="55.6" fill="#111" >(a)</text>
<text x="623" y="46" text-anchor="start" font-size="55.6" fill="#111" >MAX</text>
<text x="631" y="892" text-anchor="start" font-size="55.6" fill="#111" >MIN</text>
<defs><linearGradient id="cb" x1="0" y1="0" x2="0" y2="1">
<stop offset="0" stop-color="#d6202f"/>
<stop offset="0.17" stop-color="#ee3040"/>
<stop offset="0.25" stop-color="#e84a58"/>
<stop offset="0.31" stop-color="#ee5080"/>
<stop offset="0.38" stop-color="#f28aa4"/>
<stop offset="0.45" stop-color="#f8c4d0"/>
<stop offset="0.49" stop-color="#ffffff"/>
<stop offset="0.525" stop-color="#e6e6ea"/>
<stop offset="0.56" stop-color="#cac4f2"/>
<stop offset="0.65" stop-color="#a8a0d8"/>
<stop offset="0.71" stop-color="#8274d0"/>
<stop offset="0.78" stop-color="#5a50c6"/>
<stop offset="0.81" stop-color="#3b58b0"/>
<stop offset="0.97" stop-color="#3a58b0"/>
<stop offset="1" stop-color="#4a3eb0"/>
</linearGradient></defs>
<rect x="670" y="73" width="33" height="752" fill="url(#cb)"/>
<rect x="686" y="73" width="14" height="752" fill="#ffffff" opacity="0.06"/>
<rect x="670" y="73" width="2.5" height="752" fill="#15153c"/>
<rect x="700.5" y="73" width="2.5" height="752" fill="#20203c" opacity="0.85"/>
<rect x="670" y="72" width="33" height="2.5" fill="#7a1030"/>
<rect x="670" y="823" width="33" height="2.5" fill="#241a70"/>
<rect x="688" y="106.5" width="14" height="3" fill="#1c1030" opacity="0.85"/>
<rect x="688" y="203.0" width="14" height="3" fill="#1c1030" opacity="0.85"/>
<rect x="688" y="299.0" width="14" height="3" fill="#1c1030" opacity="0.85"/>
<rect x="688" y="395.0" width="14" height="3" fill="#1c1030" opacity="0.85"/>
<rect x="688" y="490.0" width="14" height="3" fill="#1c1030" opacity="0.85"/>
<rect x="688" y="586.5" width="14" height="3" fill="#1c1030" opacity="0.85"/>
<rect x="688" y="682.0" width="14" height="3" fill="#1c1030" opacity="0.85"/>
<rect x="688" y="778.0" width="14" height="3" fill="#1c1030" opacity="0.85"/>
<defs><filter id="ibf" x="-10%" y="-5%" width="120%" height="110%"><feGaussianBlur stdDeviation="1.8"/></filter><clipPath id="ibclip"><rect x="1041" y="99" width="91.5" height="286"/></clipPath></defs>
<g clip-path="url(#ibclip)"><g filter="url(#ibf)">
<rect x="1021" y="79" width="131" height="326" fill="#3b58a6"/>
<rect x="1041.0" y="99.0" width="91.5" height="286.0" fill="#3b58a6" opacity="1"/>
<rect x="1120.0" y="99.0" width="12.5" height="286.0" fill="#3c4cc8" opacity="1"/>
<rect x="1041.0" y="99.0" width="5.0" height="286.0" fill="#3450a8" opacity="1"/>
<rect x="1056.0" y="99.0" width="64.0" height="46.0" fill="#ccc6f2" opacity="1"/>
<rect x="1056.0" y="99.0" width="8.0" height="46.0" fill="#8c84c0" opacity="0.8"/>
<rect x="1072.0" y="99.0" width="8.0" height="46.0" fill="#a8a0d8" opacity="0.6"/>
<rect x="1096.0" y="99.0" width="8.0" height="46.0" fill="#a8a0d8" opacity="0.6"/>
<rect x="1112.0" y="99.0" width="8.0" height="46.0" fill="#7468d0" opacity="0.9"/>
<rect x="1056.0" y="143.0" width="16.0" height="18.0" fill="#8878e0" opacity="1"/>
<rect x="1104.0" y="143.0" width="16.0" height="18.0" fill="#6c80e0" opacity="1"/>
<rect x="1072.0" y="143.0" width="32.0" height="20.0" fill="#d8d4f4" opacity="1"/>
<rect x="1062.0" y="160.0" width="50.0" height="170.0" fill="#5c80e0" opacity="0.55"/>
<rect x="1068.0" y="160.0" width="38.0" height="176.0" fill="#88a4f4" opacity="0.7"/>
<rect x="1072.5" y="150.0" width="29.0" height="190.0" fill="#f6f4fc" opacity="1"/>
<rect x="1101.0" y="180.0" width="5.0" height="140.0" fill="#7060d0" opacity="0.6"/>
<rect x="1080.0" y="143.0" width="15.0" height="14.0" fill="#f4f4f4" opacity="1"/>
<rect x="1080.0" y="190.0" width="15.0" height="8.0" fill="#c01838" opacity="1"/>
<rect x="1080.0" y="196.0" width="15.0" height="14.0" fill="#f07090" opacity="1"/>
<rect x="1080.0" y="247.0" width="15.0" height="17.0" fill="#f01830" opacity="1"/>
<rect x="1080.0" y="302.0" width="15.0" height="12.0" fill="#f02040" opacity="1"/>
<rect x="1080.0" y="352.0" width="15.0" height="17.0" fill="#a8a0d8" opacity="1"/>
<rect x="1066.0" y="320.0" width="42.0" height="18.0" fill="#b8c4f8" opacity="1"/>
<rect x="1056.0" y="336.0" width="9.0" height="49.0" fill="#5048b8" opacity="1"/>
<rect x="1110.0" y="336.0" width="10.0" height="49.0" fill="#4858c8" opacity="1"/>
<rect x="1065.0" y="336.0" width="45.0" height="50.0" fill="#fafafa" opacity="1"/>
<rect x="1068.0" y="326.0" width="38.0" height="12.0" fill="#e8e8f8" opacity="1"/>
<rect x="1080.0" y="352.0" width="15.0" height="17.0" fill="#a8a0d8" opacity="1"/>
</g>
<rect x="1080" y="101" width="15" height="42.6" fill="#15104c"/>
<rect x="1080" y="155.8" width="15" height="36.2" fill="#0a0a0a"/>
<rect x="1080" y="209.5" width="15" height="39.0" fill="#0a0a0a"/>
<rect x="1080" y="263.5" width="15" height="40.0" fill="#0a0c08"/>
<rect x="1080" y="313.5" width="15" height="40.0" fill="#0a0a0a"/>
<rect x="1080" y="368" width="15" height="18.0" fill="#0a0a0a"/>
<rect x="1080" y="240" width="15" height="8" fill="#003414" opacity="0.7"/><rect x="1080" y="264" width="15" height="8" fill="#003414" opacity="0.6"/>
</g>
<path d="M1003.0,470.7 C1005.2,474.9 1011.6,488.2 1016.0,496.0 C1020.4,503.8 1024.6,511.4 1029.4,517.7 C1034.2,524.0 1039.6,530.1 1045.0,534.0 C1050.4,537.9 1056.7,540.5 1061.7,541.2 C1066.7,542.0 1070.6,540.5 1075.0,538.5 C1079.4,536.5 1083.5,534.1 1088.0,529.5 C1092.5,524.9 1097.1,518.4 1102.0,511.0 C1106.9,503.6 1111.8,495.7 1117.5,485.4 C1123.2,475.1 1129.5,463.2 1136.3,449.0 C1143.1,434.8 1152.0,415.2 1158.6,400.2 C1165.2,385.2 1170.1,372.7 1176.0,359.0 C1181.9,345.3 1187.6,332.0 1193.9,318.0 C1200.2,304.0 1207.2,288.7 1214.0,275.0 C1220.8,261.3 1228.2,247.5 1235.0,235.7 C1241.8,223.9 1248.2,213.8 1255.0,204.0 C1261.8,194.2 1269.2,185.0 1276.0,177.0 C1282.8,169.0 1289.2,162.4 1296.0,156.0 C1302.8,149.6 1310.5,143.5 1317.0,138.8 C1323.5,134.1 1329.1,131.1 1335.0,128.0 C1340.9,125.0 1346.3,122.5 1352.5,120.5 C1358.7,118.5 1365.6,117.1 1372.0,116.2 C1378.4,115.3 1384.0,115.0 1390.7,115.0 C1397.4,115.0 1404.7,115.4 1412.0,116.5 C1419.3,117.6 1428.1,119.8 1434.8,121.5 C1441.5,123.2 1446.1,124.8 1452.0,127.0 C1457.9,129.2 1462.5,131.0 1470.0,135.0 C1477.5,139.0 1488.7,145.4 1497.0,151.0 C1505.3,156.6 1512.2,162.1 1520.0,168.5 C1527.8,174.9 1536.2,182.5 1544.0,189.6 C1551.8,196.7 1559.2,203.7 1567.0,211.0 C1574.8,218.3 1583.2,226.3 1591.0,233.7 C1598.8,241.1 1606.2,248.2 1614.0,255.5 C1621.8,262.8 1630.2,270.4 1638.0,277.6 C1645.8,284.8 1653.2,291.4 1661.0,298.5 C1668.8,305.6 1677.1,312.9 1685.0,319.9 C1692.9,326.9 1700.7,333.7 1708.5,340.5 C1716.3,347.3 1724.2,354.0 1732.0,360.5 C1739.8,367.0 1747.7,373.4 1755.5,379.6 C1763.3,385.8 1771.2,391.7 1779.0,397.5 C1786.8,403.3 1794.7,409.0 1802.5,414.4 C1810.3,419.8 1818.2,425.1 1826.0,430.0 C1833.8,434.9 1841.7,439.6 1849.5,443.8 C1857.3,448.1 1865.2,451.9 1873.0,455.5 C1880.8,459.1 1889.0,462.6 1896.5,465.3 C1904.0,468.1 1910.6,470.0 1918.0,472.0 C1925.4,474.0 1937.2,476.5 1941.0,477.4" fill="none" stroke="#4234a8" stroke-width="7.8" stroke-linecap="butt" stroke-linejoin="round"/>
<path d="M1003.0,470.7 C1005.2,474.9 1011.6,488.2 1016.0,496.0 C1020.4,503.8 1024.6,511.4 1029.4,517.7 C1034.2,524.0 1039.6,530.1 1045.0,534.0 C1050.4,537.9 1056.7,540.5 1061.7,541.2 C1066.7,542.0 1070.6,540.5 1075.0,538.5 C1079.4,536.5 1083.5,534.1 1088.0,529.5 C1092.5,524.9 1097.1,518.4 1102.0,511.0 C1106.9,503.6 1111.8,495.7 1117.5,485.4 C1123.2,475.1 1129.5,463.2 1136.3,449.0 C1143.1,434.8 1152.0,415.2 1158.6,400.2 C1165.2,385.2 1170.1,372.7 1176.0,359.0 C1181.9,345.3 1187.6,332.0 1193.9,318.0 C1200.2,304.0 1207.2,288.7 1214.0,275.0 C1220.8,261.3 1228.2,247.5 1235.0,235.7 C1241.8,223.9 1248.2,213.8 1255.0,204.0 C1261.8,194.2 1269.2,185.0 1276.0,177.0 C1282.8,169.0 1289.2,162.4 1296.0,156.0 C1302.8,149.6 1310.5,143.5 1317.0,138.8 C1323.5,134.1 1329.1,131.1 1335.0,128.0 C1340.9,125.0 1346.3,122.5 1352.5,120.5 C1358.7,118.5 1365.6,117.1 1372.0,116.2 C1378.4,115.3 1384.0,115.0 1390.7,115.0 C1397.4,115.0 1404.7,115.4 1412.0,116.5 C1419.3,117.6 1428.1,119.8 1434.8,121.5 C1441.5,123.2 1446.1,124.8 1452.0,127.0 C1457.9,129.2 1462.5,131.0 1470.0,135.0 C1477.5,139.0 1488.7,145.4 1497.0,151.0 C1505.3,156.6 1512.2,162.1 1520.0,168.5 C1527.8,174.9 1536.2,182.5 1544.0,189.6 C1551.8,196.7 1559.2,203.7 1567.0,211.0 C1574.8,218.3 1583.2,226.3 1591.0,233.7 C1598.8,241.1 1606.2,248.2 1614.0,255.5 C1621.8,262.8 1630.2,270.4 1638.0,277.6 C1645.8,284.8 1653.2,291.4 1661.0,298.5 C1668.8,305.6 1677.1,312.9 1685.0,319.9 C1692.9,326.9 1700.7,333.7 1708.5,340.5 C1716.3,347.3 1724.2,354.0 1732.0,360.5 C1739.8,367.0 1747.7,373.4 1755.5,379.6 C1763.3,385.8 1771.2,391.7 1779.0,397.5 C1786.8,403.3 1794.7,409.0 1802.5,414.4 C1810.3,419.8 1818.2,425.1 1826.0,430.0 C1833.8,434.9 1841.7,439.6 1849.5,443.8 C1857.3,448.1 1865.2,451.9 1873.0,455.5 C1880.8,459.1 1889.0,462.6 1896.5,465.3 C1904.0,468.1 1910.6,470.0 1918.0,472.0 C1925.4,474.0 1937.2,476.5 1941.0,477.4" fill="none" stroke="#2a2478" stroke-width="3" stroke-linecap="butt" opacity="0.8"/>
<rect x="1386.6" y="93.4" width="12" height="39.5" rx="2" fill="#3c9ee2"/>
<rect x="1390.6" y="96.4" width="4" height="33" fill="#62b4f2" opacity="0.7"/>
<rect x="1386.6" y="126.9" width="12" height="6" rx="2" fill="#6c8c94" opacity="0.75"/>
<rect x="1386.6" y="93.4" width="12" height="4" rx="2" fill="#5a7890" opacity="0.6"/>
<rect x="1386.6" y="146.2" width="12" height="39.5" rx="2" fill="#3c9ee2"/>
<rect x="1390.6" y="149.2" width="4" height="33" fill="#62b4f2" opacity="0.7"/>
<rect x="1386.6" y="179.8" width="12" height="6" rx="2" fill="#6c8c94" opacity="0.75"/>
<rect x="1386.6" y="146.2" width="12" height="4" rx="2" fill="#5a7890" opacity="0.6"/>
<rect x="1386.6" y="199.1" width="12" height="39.5" rx="2" fill="#3c9ee2"/>
<rect x="1390.6" y="202.1" width="4" height="33" fill="#62b4f2" opacity="0.7"/>
<rect x="1386.6" y="232.6" width="12" height="6" rx="2" fill="#6c8c94" opacity="0.75"/>
<rect x="1386.6" y="199.1" width="12" height="4" rx="2" fill="#5a7890" opacity="0.6"/>
<rect x="1386.6" y="252.0" width="12" height="39.5" rx="2" fill="#3c9ee2"/>
<rect x="1390.6" y="255.0" width="4" height="33" fill="#62b4f2" opacity="0.7"/>
<rect x="1386.6" y="285.5" width="12" height="6" rx="2" fill="#6c8c94" opacity="0.75"/>
<rect x="1386.6" y="252.0" width="12" height="4" rx="2" fill="#5a7890" opacity="0.6"/>
<rect x="1386.6" y="304.8" width="12" height="39.5" rx="2" fill="#3c9ee2"/>
<rect x="1390.6" y="307.8" width="4" height="33" fill="#62b4f2" opacity="0.7"/>
<rect x="1386.6" y="338.3" width="12" height="6" rx="2" fill="#6c8c94" opacity="0.75"/>
<rect x="1386.6" y="304.8" width="12" height="4" rx="2" fill="#5a7890" opacity="0.6"/>
<rect x="1386.6" y="357.6" width="12" height="39.5" rx="2" fill="#3c9ee2"/>
<rect x="1390.6" y="360.6" width="4" height="33" fill="#62b4f2" opacity="0.7"/>
<rect x="1386.6" y="391.1" width="12" height="6" rx="2" fill="#6c8c94" opacity="0.75"/>
<rect x="1386.6" y="357.6" width="12" height="4" rx="2" fill="#5a7890" opacity="0.6"/>
<rect x="1386.6" y="410.5" width="12" height="39.5" rx="2" fill="#3c9ee2"/>
<rect x="1390.6" y="413.5" width="4" height="33" fill="#62b4f2" opacity="0.7"/>
<rect x="1386.6" y="444.0" width="12" height="6" rx="2" fill="#6c8c94" opacity="0.75"/>
<rect x="1386.6" y="410.5" width="12" height="4" rx="2" fill="#5a7890" opacity="0.6"/>
<rect x="1386.6" y="463.4" width="12" height="39.5" rx="2" fill="#3c9ee2"/>
<rect x="1390.6" y="466.4" width="4" height="33" fill="#62b4f2" opacity="0.7"/>
<rect x="1386.6" y="496.9" width="12" height="6" rx="2" fill="#6c8c94" opacity="0.75"/>
<rect x="1386.6" y="463.4" width="12" height="4" rx="2" fill="#5a7890" opacity="0.6"/>
<rect x="1386.6" y="516.2" width="12" height="39.5" rx="2" fill="#3c9ee2"/>
<rect x="1390.6" y="519.2" width="4" height="33" fill="#62b4f2" opacity="0.7"/>
<rect x="1386.6" y="549.7" width="12" height="6" rx="2" fill="#6c8c94" opacity="0.75"/>
<rect x="1386.6" y="516.2" width="12" height="4" rx="2" fill="#5a7890" opacity="0.6"/>
<rect x="1386.6" y="569.1" width="12" height="39.5" rx="2" fill="#3c9ee2"/>
<rect x="1390.6" y="572.1" width="4" height="33" fill="#62b4f2" opacity="0.7"/>
<rect x="1386.6" y="602.6" width="12" height="6" rx="2" fill="#6c8c94" opacity="0.75"/>
<rect x="1386.6" y="569.1" width="12" height="4" rx="2" fill="#5a7890" opacity="0.6"/>
<rect x="1386.6" y="621.9" width="12" height="39.5" rx="2" fill="#3c9ee2"/>
<rect x="1390.6" y="624.9" width="4" height="33" fill="#62b4f2" opacity="0.7"/>
<rect x="1386.6" y="655.4" width="12" height="6" rx="2" fill="#6c8c94" opacity="0.75"/>
<rect x="1386.6" y="621.9" width="12" height="4" rx="2" fill="#5a7890" opacity="0.6"/>
<rect x="1386.6" y="674.8" width="12" height="39.5" rx="2" fill="#3c9ee2"/>
<rect x="1390.6" y="677.8" width="4" height="33" fill="#62b4f2" opacity="0.7"/>
<rect x="1386.6" y="708.2" width="12" height="6" rx="2" fill="#6c8c94" opacity="0.75"/>
<rect x="1386.6" y="674.8" width="12" height="4" rx="2" fill="#5a7890" opacity="0.6"/>
<rect x="1386.6" y="727.6" width="12" height="39.5" rx="2" fill="#3c9ee2"/>
<rect x="1390.6" y="730.6" width="4" height="33" fill="#62b4f2" opacity="0.7"/>
<rect x="1386.6" y="761.1" width="12" height="6" rx="2" fill="#6c8c94" opacity="0.75"/>
<rect x="1386.6" y="727.6" width="12" height="4" rx="2" fill="#5a7890" opacity="0.6"/>
<rect x="1386.6" y="780.5" width="12" height="39.5" rx="2" fill="#3c9ee2"/>
<rect x="1390.6" y="783.5" width="4" height="33" fill="#62b4f2" opacity="0.7"/>
<rect x="1386.6" y="814.0" width="12" height="6" rx="2" fill="#6c8c94" opacity="0.75"/>
<rect x="1386.6" y="780.5" width="12" height="4" rx="2" fill="#5a7890" opacity="0.6"/>
<rect x="1130.3" y="470.2" width="13.4" height="38.5" rx="1.5" fill="#c8203c"/>
<rect x="1133.3" y="471.2" width="8.4" height="36.5" fill="#ee2418"/>
<rect x="1130.3" y="522.8" width="13.4" height="38.5" rx="1.5" fill="#c8203c"/>
<rect x="1133.3" y="523.8" width="8.4" height="36.5" fill="#ee2418"/>
<rect x="1130.3" y="575.4" width="13.4" height="38.5" rx="1.5" fill="#c8203c"/>
<rect x="1133.3" y="576.4" width="8.4" height="36.5" fill="#ee2418"/>
<rect x="1130.3" y="628.0" width="13.4" height="38.5" rx="1.5" fill="#c8203c"/>
<rect x="1133.3" y="629.0" width="8.4" height="36.5" fill="#ee2418"/>
<rect x="1130.3" y="680.6" width="13.4" height="38.5" rx="1.5" fill="#c8203c"/>
<rect x="1133.3" y="681.6" width="8.4" height="36.5" fill="#ee2418"/>
<rect x="1130.3" y="733.2" width="13.4" height="38.5" rx="1.5" fill="#c8203c"/>
<rect x="1133.3" y="734.2" width="8.4" height="36.5" fill="#ee2418"/>
<rect x="1130.3" y="785.8" width="13.4" height="38.5" rx="1.5" fill="#c8203c"/>
<rect x="1133.3" y="786.8" width="8.4" height="36.5" fill="#ee2418"/>
<rect x="1703.7" y="340.5" width="13.4" height="10.4" rx="1.5" fill="#c8203c"/>
<rect x="1706.7" y="341.5" width="8.4" height="8.4" fill="#ee2418"/>
<rect x="1703.7" y="365.0" width="13.4" height="38.5" rx="1.5" fill="#c8203c"/>
<rect x="1706.7" y="366.0" width="8.4" height="36.5" fill="#ee2418"/>
<rect x="1703.7" y="417.6" width="13.4" height="38.5" rx="1.5" fill="#c8203c"/>
<rect x="1706.7" y="418.6" width="8.4" height="36.5" fill="#ee2418"/>
<rect x="1703.7" y="470.2" width="13.4" height="38.5" rx="1.5" fill="#c8203c"/>
<rect x="1706.7" y="471.2" width="8.4" height="36.5" fill="#ee2418"/>
<rect x="1703.7" y="522.8" width="13.4" height="38.5" rx="1.5" fill="#c8203c"/>
<rect x="1706.7" y="523.8" width="8.4" height="36.5" fill="#ee2418"/>
<rect x="1703.7" y="575.4" width="13.4" height="38.5" rx="1.5" fill="#c8203c"/>
<rect x="1706.7" y="576.4" width="8.4" height="36.5" fill="#ee2418"/>
<rect x="1703.7" y="628.0" width="13.4" height="38.5" rx="1.5" fill="#c8203c"/>
<rect x="1706.7" y="629.0" width="8.4" height="36.5" fill="#ee2418"/>
<rect x="1703.7" y="680.6" width="13.4" height="38.5" rx="1.5" fill="#c8203c"/>
<rect x="1706.7" y="681.6" width="8.4" height="36.5" fill="#ee2418"/>
<rect x="1703.7" y="733.2" width="13.4" height="38.5" rx="1.5" fill="#c8203c"/>
<rect x="1706.7" y="734.2" width="8.4" height="36.5" fill="#ee2418"/>
<rect x="1703.7" y="785.8" width="13.4" height="38.5" rx="1.5" fill="#c8203c"/>
<rect x="1706.7" y="786.8" width="8.4" height="36.5" fill="#ee2418"/>
<path d="M1342,633.5 L1342,647.5 L1199,644 L1199,658.5 L1141,637 L1199,616 L1199,631.5 Z" fill="#e8222a"/>
<path d="M1621.5,646 L1621.5,660.5 L1648.5,660 L1648.5,673 L1705,656 L1648.5,635.5 L1648.5,646.5 Z" fill="#e8222a"/>
<text x="1408" y="663.5" text-anchor="start" font-size="55.6" fill="#d81c48" letter-spacing="0.3">18.91λ</text>
<text x="1487" y="133" text-anchor="start" font-size="55.6" fill="#5696c6" opacity="0.92">134.22 mm</text>
<rect x="1002.5" y="80" width="939.5" height="753.5" fill="none" stroke="#161616" stroke-width="3.4"/>
<line x1="1002.5" y1="799.3" x2="1016.5" y2="799.3" stroke="#161616" stroke-width="3"/>
<text x="982" y="817.3" text-anchor="end" font-size="55.6" fill="#111" >0</text>
<line x1="1002.5" y1="662.6" x2="1016.5" y2="662.6" stroke="#161616" stroke-width="3"/>
<text x="982" y="680.5799999999999" text-anchor="end" font-size="55.6" fill="#111" >0.2</text>
<line x1="1002.5" y1="525.9" x2="1016.5" y2="525.9" stroke="#161616" stroke-width="3"/>
<text x="982" y="543.8599999999999" text-anchor="end" font-size="55.6" fill="#111" >0.4</text>
<line x1="1002.5" y1="389.1" x2="1016.5" y2="389.1" stroke="#161616" stroke-width="3"/>
<text x="982" y="407.13999999999993" text-anchor="end" font-size="55.6" fill="#111" >0.6</text>
<line x1="1002.5" y1="252.4" x2="1016.5" y2="252.4" stroke="#161616" stroke-width="3"/>
<text x="982" y="270.41999999999996" text-anchor="end" font-size="55.6" fill="#111" >0.8</text>
<line x1="1002.5" y1="115.7" x2="1016.5" y2="115.7" stroke="#161616" stroke-width="3"/>
<text x="982" y="133.69999999999993" text-anchor="end" font-size="55.6" fill="#111" >1.0</text>
<line x1="1052.3" y1="833.5" x2="1052.3" y2="817.5" stroke="#161616" stroke-width="3"/>
<text x="1053.3" y="897" text-anchor="middle" font-size="55.6" fill="#111" >100</text>
<line x1="1299.7" y1="833.5" x2="1299.7" y2="817.5" stroke="#161616" stroke-width="3"/>
<text x="1300.7" y="897" text-anchor="middle" font-size="55.6" fill="#111" >125</text>
<line x1="1547.1" y1="833.5" x2="1547.1" y2="817.5" stroke="#161616" stroke-width="3"/>
<text x="1548.1" y="897" text-anchor="middle" font-size="55.6" fill="#111" >150</text>
<line x1="1794.5" y1="833.5" x2="1794.5" y2="817.5" stroke="#161616" stroke-width="3"/>
<text x="1795.5" y="897" text-anchor="middle" font-size="55.6" fill="#111" >175</text>
<text x="1471" y="977" text-anchor="middle" font-size="55.6" fill="#111" ><tspan font-style="italic">Z</tspan>/mm</text>
<text transform="translate(871,458) rotate(-90)" text-anchor="middle" font-size="55.6" fill="#111">Intensity/arb.units</text>
<text x="798" y="104" text-anchor="start" font-size="55.6" fill="#111" >(b)</text>
<defs><filter id="icf" x="-10%" y="-5%" width="120%" height="110%"><feGaussianBlur stdDeviation="2.8"/></filter><clipPath id="icclip"><rect x="2288" y="117" width="257.3" height="390"/></clipPath></defs>
<g clip-path="url(#icclip)"><g filter="url(#icf)">
<rect x="2268" y="97" width="297" height="430" fill="#3b58a6"/>
<rect x="2304.0" y="121.0" width="224.0" height="7.0" fill="#3a4ec8" opacity="1"/>
<rect x="2288.0" y="496.0" width="257.3" height="11.0" fill="#3448c8" opacity="1"/>
<path d="M2368,117 L2464,117 L2464,150 L2452,205 L2448,300 L2385,300 L2381,205 L2368,150 Z" fill="#8c84e4"/>
<path d="M2380,117 L2453,117 L2452,150 L2443,215 L2390,215 L2381,150 Z" fill="#bcb4e4"/>
<rect x="2400.0" y="117.0" width="32.0" height="19.0" fill="#a8a0d0" opacity="1"/>
<rect x="2376.0" y="165.0" width="7.0" height="34.0" fill="#6c8ce0" opacity="0.8"/>
<rect x="2450.0" y="165.0" width="7.0" height="34.0" fill="#6c8ce0" opacity="0.8"/>
<rect x="2385.0" y="215.0" width="9.0" height="140.0" fill="#5848c8" opacity="0.9"/>
<rect x="2439.0" y="215.0" width="9.0" height="140.0" fill="#5848c8" opacity="0.9"/>
<rect x="2386.0" y="355.0" width="7.0" height="80.0" fill="#4450c4" opacity="0.9"/>
<rect x="2440.0" y="355.0" width="7.0" height="80.0" fill="#4450c4" opacity="0.9"/>
<rect x="2399.0" y="160.0" width="34.0" height="52.0" fill="#f8f8fa" opacity="1"/>
<path d="M2394,200 L2439,200 L2439,440 Q2436,470 2416.5,478 Q2397,470 2394,440 Z" fill="#f8f6fc"/>
<path d="M2407,208 L2426,208 Q2431,240 2431.5,275 L2431.5,420 Q2428,450 2416.5,464 Q2405,450 2401.5,420 L2401.5,275 Q2402,240 2407,208 Z" fill="#f03040"/>
<rect x="2407.0" y="206.0" width="19.0" height="34.0" fill="#f888a8" opacity="1"/>
<rect x="2407.0" y="238.0" width="19.0" height="18.0" fill="#f05080" opacity="1"/>
<rect x="2403.0" y="255.0" width="12.0" height="40.0" fill="#e86890" opacity="0.75"/>
<rect x="2402.0" y="290.0" width="10.0" height="40.0" fill="#f09088" opacity="0.6"/>
<ellipse cx="2416.5" cy="390.0" rx="9" ry="40" fill="#fa2010" opacity="1"/>
<ellipse cx="2416.5" cy="445.0" rx="9" ry="18" fill="#f05888" opacity="1"/>
<rect x="2376.0" y="432.0" width="20.0" height="16.0" fill="#7060c8" opacity="1"/>
<rect x="2437.0" y="432.0" width="18.0" height="16.0" fill="#7060c8" opacity="1"/>
<rect x="2378.0" y="446.0" width="18.0" height="20.0" fill="#b0a8e0" opacity="1"/>
<rect x="2437.0" y="446.0" width="16.0" height="20.0" fill="#b0a8e0" opacity="1"/>
<rect x="2382.0" y="464.0" width="70.0" height="43.0" fill="#fafafa" opacity="1"/>
<rect x="2376.0" y="460.0" width="8.0" height="47.0" fill="#88a8f8" opacity="1"/>
<rect x="2450.0" y="460.0" width="6.0" height="47.0" fill="#88a8f8" opacity="1"/>
<rect x="2400.0" y="482.0" width="32.0" height="25.0" fill="#9088d0" opacity="1"/>
<rect x="2404.0" y="478.0" width="24.0" height="10.0" fill="#c0b8e8" opacity="1"/>
</g>
<rect x="2287.0" y="339.5" width="43.5" height="17" rx="5" fill="#4034a8"/>
<rect x="2289.5" y="342" width="38.5" height="12" rx="4" fill="#fcfcf6"/>
<rect x="2342.5" y="339.5" width="43" height="17" rx="5" fill="#4034a8"/>
<rect x="2345" y="342" width="38" height="12" rx="4" fill="#fcfcf6"/>
<rect x="2395" y="342" width="39" height="12" fill="#fbfbfb"/>
<rect x="2445.5" y="339.5" width="43.5" height="17" rx="5" fill="#4034a8"/>
<rect x="2448" y="342" width="38.5" height="12" rx="4" fill="#fcfcf6"/>
<rect x="2500.0" y="339.5" width="44.0" height="17" rx="5" fill="#4034a8"/>
<rect x="2502.5" y="342" width="39.0" height="12" rx="4" fill="#fcfcf6"/>
</g>
<path d="M2213.4,769.2 C2215.3,762.7 2220.5,743.3 2224.7,730.4 C2228.9,717.5 2234.1,704.2 2238.8,691.6 C2243.5,679.0 2247.6,665.6 2252.9,654.8 C2258.2,644.0 2265.7,633.0 2270.5,626.6 C2275.3,620.2 2278.2,618.8 2282.0,616.5 C2285.8,614.2 2289.7,613.2 2293.4,613.0 C2297.1,612.8 2300.8,614.0 2304.0,615.5 C2307.2,617.0 2307.8,616.4 2312.8,621.9 C2317.8,627.4 2327.5,640.9 2334.0,648.3 C2340.5,655.7 2346.9,662.7 2351.6,666.4 C2356.3,670.1 2358.1,670.9 2362.2,670.5 C2366.3,670.1 2371.0,668.9 2376.3,664.2 C2381.6,659.5 2388.0,649.4 2393.9,642.3 C2399.8,635.2 2407.1,626.1 2411.6,621.6 C2416.1,617.1 2418.1,616.4 2421.0,615.0 C2423.9,613.6 2426.4,613.0 2429.2,613.0 C2432.0,613.0 2435.1,613.6 2438.0,614.8 C2440.9,616.0 2442.4,615.1 2446.8,620.3 C2451.2,625.5 2458.6,635.7 2464.5,645.8 C2470.4,655.9 2476.2,669.2 2482.1,681.0 C2488.0,692.8 2493.8,705.4 2499.7,716.3 C2505.6,727.2 2512.0,738.2 2517.3,746.3 C2522.6,754.4 2527.1,760.6 2531.5,764.7 C2535.9,768.8 2539.7,771.4 2543.8,771.0 C2547.9,770.6 2552.3,767.7 2556.1,762.1 C2559.9,756.5 2563.2,748.6 2566.7,737.5 C2570.2,726.4 2573.8,711.7 2577.3,695.2 C2580.8,678.7 2584.7,657.9 2587.9,638.7 C2591.1,619.5 2593.6,606.5 2596.7,580.0 C2599.8,553.5 2602.8,510.8 2606.5,480.0 C2610.2,449.2 2614.7,423.0 2618.7,395.2 C2622.7,367.4 2626.5,338.4 2630.4,313.0 C2634.3,287.6 2638.2,264.1 2642.2,242.6 C2646.2,221.1 2651.2,198.7 2654.5,183.9 C2657.8,169.1 2659.7,162.2 2662.0,154.0 C2664.3,145.8 2666.0,140.6 2668.5,135.0 C2671.0,129.4 2674.3,123.6 2677.0,120.5 C2679.7,117.4 2682.0,116.4 2684.5,116.4 C2687.0,116.4 2689.3,117.4 2692.0,120.5 C2694.7,123.6 2698.0,129.4 2700.5,135.0 C2703.0,140.6 2704.7,145.8 2707.0,154.0 C2709.3,162.2 2711.2,169.1 2714.5,183.9 C2717.8,198.7 2722.8,221.1 2726.8,242.6 C2730.8,264.1 2734.7,287.6 2738.6,313.0 C2742.5,338.4 2746.3,367.4 2750.3,395.2 C2754.3,423.0 2758.8,449.2 2762.5,480.0 C2766.2,510.8 2769.2,553.5 2772.3,580.0 C2775.4,606.5 2777.9,619.5 2781.1,638.7 C2784.3,657.9 2788.2,678.7 2791.7,695.2 C2795.2,711.7 2798.8,726.4 2802.3,737.5 C2805.8,748.6 2809.1,756.5 2812.9,762.1 C2816.7,767.7 2821.1,770.6 2825.2,771.0 C2829.3,771.4 2833.1,768.8 2837.5,764.7 C2841.9,760.6 2846.4,754.4 2851.7,746.3 C2857.0,738.2 2863.4,727.2 2869.3,716.3 C2875.2,705.4 2881.0,692.8 2886.9,681.0 C2892.8,669.2 2898.6,655.9 2904.5,645.8 C2910.4,635.7 2917.8,625.5 2922.2,620.3 C2926.6,615.1 2928.1,616.0 2931.0,614.8 C2933.9,613.6 2937.0,613.0 2939.8,613.0 C2942.6,613.0 2945.1,613.6 2948.0,615.0 C2950.9,616.4 2952.9,617.1 2957.4,621.6 C2961.9,626.1 2969.2,635.2 2975.1,642.3 C2981.0,649.4 2987.4,659.5 2992.7,664.2 C2998.0,668.9 3002.7,670.1 3006.8,670.5 C3010.9,670.9 3012.7,670.1 3017.4,666.4 C3022.1,662.7 3028.5,655.7 3035.0,648.3 C3041.5,640.9 3051.2,627.4 3056.2,621.9 C3061.2,616.4 3061.8,617.0 3065.0,615.5 C3068.2,614.0 3071.9,612.8 3075.6,613.0 C3079.3,613.2 3083.2,614.2 3087.0,616.5 C3090.8,618.8 3093.7,620.2 3098.5,626.6 C3103.3,633.0 3110.8,644.0 3116.1,654.8 C3121.4,665.6 3125.5,679.0 3130.2,691.6 C3134.9,704.2 3140.5,717.5 3144.3,730.4 C3148.1,743.3 3151.6,762.7 3153.0,769.2" fill="none" stroke="#4234a8" stroke-width="7.8" stroke-linejoin="round"/>
<path d="M2213.4,769.2 C2215.3,762.7 2220.5,743.3 2224.7,730.4 C2228.9,717.5 2234.1,704.2 2238.8,691.6 C2243.5,679.0 2247.6,665.6 2252.9,654.8 C2258.2,644.0 2265.7,633.0 2270.5,626.6 C2275.3,620.2 2278.2,618.8 2282.0,616.5 C2285.8,614.2 2289.7,613.2 2293.4,613.0 C2297.1,612.8 2300.8,614.0 2304.0,615.5 C2307.2,617.0 2307.8,616.4 2312.8,621.9 C2317.8,627.4 2327.5,640.9 2334.0,648.3 C2340.5,655.7 2346.9,662.7 2351.6,666.4 C2356.3,670.1 2358.1,670.9 2362.2,670.5 C2366.3,670.1 2371.0,668.9 2376.3,664.2 C2381.6,659.5 2388.0,649.4 2393.9,642.3 C2399.8,635.2 2407.1,626.1 2411.6,621.6 C2416.1,617.1 2418.1,616.4 2421.0,615.0 C2423.9,613.6 2426.4,613.0 2429.2,613.0 C2432.0,613.0 2435.1,613.6 2438.0,614.8 C2440.9,616.0 2442.4,615.1 2446.8,620.3 C2451.2,625.5 2458.6,635.7 2464.5,645.8 C2470.4,655.9 2476.2,669.2 2482.1,681.0 C2488.0,692.8 2493.8,705.4 2499.7,716.3 C2505.6,727.2 2512.0,738.2 2517.3,746.3 C2522.6,754.4 2527.1,760.6 2531.5,764.7 C2535.9,768.8 2539.7,771.4 2543.8,771.0 C2547.9,770.6 2552.3,767.7 2556.1,762.1 C2559.9,756.5 2563.2,748.6 2566.7,737.5 C2570.2,726.4 2573.8,711.7 2577.3,695.2 C2580.8,678.7 2584.7,657.9 2587.9,638.7 C2591.1,619.5 2593.6,606.5 2596.7,580.0 C2599.8,553.5 2602.8,510.8 2606.5,480.0 C2610.2,449.2 2614.7,423.0 2618.7,395.2 C2622.7,367.4 2626.5,338.4 2630.4,313.0 C2634.3,287.6 2638.2,264.1 2642.2,242.6 C2646.2,221.1 2651.2,198.7 2654.5,183.9 C2657.8,169.1 2659.7,162.2 2662.0,154.0 C2664.3,145.8 2666.0,140.6 2668.5,135.0 C2671.0,129.4 2674.3,123.6 2677.0,120.5 C2679.7,117.4 2682.0,116.4 2684.5,116.4 C2687.0,116.4 2689.3,117.4 2692.0,120.5 C2694.7,123.6 2698.0,129.4 2700.5,135.0 C2703.0,140.6 2704.7,145.8 2707.0,154.0 C2709.3,162.2 2711.2,169.1 2714.5,183.9 C2717.8,198.7 2722.8,221.1 2726.8,242.6 C2730.8,264.1 2734.7,287.6 2738.6,313.0 C2742.5,338.4 2746.3,367.4 2750.3,395.2 C2754.3,423.0 2758.8,449.2 2762.5,480.0 C2766.2,510.8 2769.2,553.5 2772.3,580.0 C2775.4,606.5 2777.9,619.5 2781.1,638.7 C2784.3,657.9 2788.2,678.7 2791.7,695.2 C2795.2,711.7 2798.8,726.4 2802.3,737.5 C2805.8,748.6 2809.1,756.5 2812.9,762.1 C2816.7,767.7 2821.1,770.6 2825.2,771.0 C2829.3,771.4 2833.1,768.8 2837.5,764.7 C2841.9,760.6 2846.4,754.4 2851.7,746.3 C2857.0,738.2 2863.4,727.2 2869.3,716.3 C2875.2,705.4 2881.0,692.8 2886.9,681.0 C2892.8,669.2 2898.6,655.9 2904.5,645.8 C2910.4,635.7 2917.8,625.5 2922.2,620.3 C2926.6,615.1 2928.1,616.0 2931.0,614.8 C2933.9,613.6 2937.0,613.0 2939.8,613.0 C2942.6,613.0 2945.1,613.6 2948.0,615.0 C2950.9,616.4 2952.9,617.1 2957.4,621.6 C2961.9,626.1 2969.2,635.2 2975.1,642.3 C2981.0,649.4 2987.4,659.5 2992.7,664.2 C2998.0,668.9 3002.7,670.1 3006.8,670.5 C3010.9,670.9 3012.7,670.1 3017.4,666.4 C3022.1,662.7 3028.5,655.7 3035.0,648.3 C3041.5,640.9 3051.2,627.4 3056.2,621.9 C3061.2,616.4 3061.8,617.0 3065.0,615.5 C3068.2,614.0 3071.9,612.8 3075.6,613.0 C3079.3,613.2 3083.2,614.2 3087.0,616.5 C3090.8,618.8 3093.7,620.2 3098.5,626.6 C3103.3,633.0 3110.8,644.0 3116.1,654.8 C3121.4,665.6 3125.5,679.0 3130.2,691.6 C3134.9,704.2 3140.5,717.5 3144.3,730.4 C3148.1,743.3 3151.6,762.7 3153.0,769.2" fill="none" stroke="#2a2478" stroke-width="3" opacity="0.8"/>
<rect x="2212.8" y="80" width="940.3999999999996" height="753.2" fill="none" stroke="#161616" stroke-width="3.4"/>
<line x1="2212.8" y1="756.0" x2="2226.8" y2="756.0" stroke="#161616" stroke-width="3"/>
<text x="2192" y="775.0" text-anchor="end" font-size="55.6" fill="#111" >0.2</text>
<line x1="2212.8" y1="596.3" x2="2226.8" y2="596.3" stroke="#161616" stroke-width="3"/>
<text x="2192" y="615.3" text-anchor="end" font-size="55.6" fill="#111" >0.4</text>
<line x1="2212.8" y1="436.6" x2="2226.8" y2="436.6" stroke="#161616" stroke-width="3"/>
<text x="2192" y="455.6" text-anchor="end" font-size="55.6" fill="#111" >0.6</text>
<line x1="2212.8" y1="276.9" x2="2226.8" y2="276.9" stroke="#161616" stroke-width="3"/>
<text x="2192" y="295.8999999999999" text-anchor="end" font-size="55.6" fill="#111" >0.8</text>
<line x1="2212.8" y1="117.2" x2="2226.8" y2="117.2" stroke="#161616" stroke-width="3"/>
<text x="2192" y="136.19999999999993" text-anchor="end" font-size="55.6" fill="#111" >1.0</text>
<text x="2213.1" y="897" text-anchor="middle" font-size="55.6" fill="#111" >−20</text>
<line x1="2448.1" y1="833.2" x2="2448.1" y2="817.2" stroke="#161616" stroke-width="3"/>
<text x="2448.1" y="897" text-anchor="middle" font-size="55.6" fill="#111" >−10</text>
<line x1="2683.1" y1="833.2" x2="2683.1" y2="817.2" stroke="#161616" stroke-width="3"/>
<text x="2683.1" y="897" text-anchor="middle" font-size="55.6" fill="#111" >0</text>
<line x1="2918.1" y1="833.2" x2="2918.1" y2="817.2" stroke="#161616" stroke-width="3"/>
<text x="2918.1" y="897" text-anchor="middle" font-size="55.6" fill="#111" >10</text>
<text x="3153.1" y="897" text-anchor="middle" font-size="55.6" fill="#111" >20</text>
<text x="2681" y="977" text-anchor="middle" font-size="55.6" fill="#111" ><tspan font-style="italic">X</tspan>/mm</text>
<text transform="translate(2081,458) rotate(-90)" text-anchor="middle" font-size="55.6" fill="#111">Intensity/arb.units</text>
<text x="2006" y="104" text-anchor="start" font-size="55.6" fill="#111" >(c)</text>
</svg>
</body></html>
